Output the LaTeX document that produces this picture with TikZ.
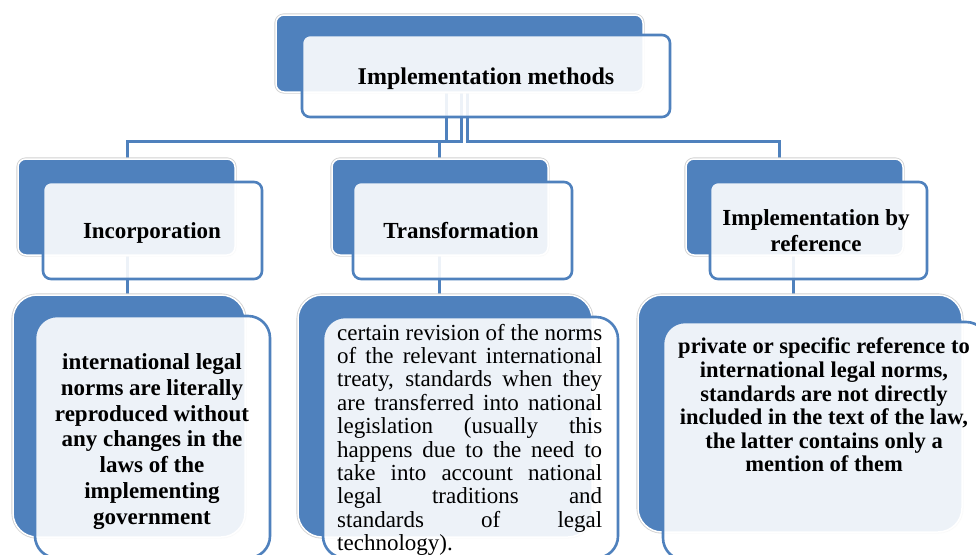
\documentclass[tikz,border=0pt]{standalone}
\usepackage{fontspec}
\setmainfont{Liberation Serif}
\definecolor{accblue}{HTML}{4F81BD}
\begin{document}
\begin{tikzpicture}[x=1pt,y=-1pt,
  backbox/.style={fill=accblue, draw=white, line width=1.5pt, rounded corners=8pt,
    preaction={draw=black!18, line width=3.2pt}, inner sep=0pt, outer sep=0pt},
  frontbox/.style={fill=white, fill opacity=0.9, draw=accblue, line width=2.6pt,
    rounded corners=8pt, inner sep=0pt, outer sep=0pt, text opacity=1},
  conn/.style={draw=accblue, line width=3pt},
  lbl/.style={font=\fontsize{23}{26}\selectfont\bfseries, align=center, text=black},
  desc/.style={font=\fontsize{23}{25.7}\selectfont\bfseries, align=center, text=black, inner sep=0pt},
]
\useasboundingbox (0,0) rectangle (976,554);
\clip (0,0) rectangle (976,554);
\fill[white] (0,0) rectangle (976,554);

% connector coordinates
\coordinate (t1) at (446,80);
\coordinate (t2) at (461,80);
\coordinate (t3) at (467,80);
\coordinate (bl) at (127,141);
\coordinate (bm) at (439,141);
\coordinate (br) at (779,141);
\coordinate (refin) at (779,170);
\coordinate (refout) at (793,250);

% connectors (drawn first, behind boxes)
\draw[conn] (t1) |- (bl) -- (127,170);
\draw[conn] (t2) |- (bm) -- (439,170);
\draw[conn] (t3) |- (br) -- (refin);
\draw[conn] (127,250) -- (127,300);
\draw[conn] (439,250) -- (439,300);
\draw[conn] (refout) -- (793,300);

% level 1
\node[backbox, minimum width=367pt, minimum height=77pt] (topB) at (459.5,53.5) {};
\node[frontbox, minimum width=368pt, minimum height=82pt] (topF) at (486,76) {};
\node[font=\fontsize{24}{28}\selectfont\bfseries] (topT) at (486,79) {Implementation methods};

% level 2
\node[backbox, minimum width=217pt, minimum height=96pt] (incB) at (126.5,207) {};
\node[frontbox, minimum width=219pt, minimum height=97pt] (incF) at (152.5,230.5) {};
\node[lbl] (incT) at (152,233) {Incorporation};

\node[backbox, minimum width=216pt, minimum height=96pt] (trB) at (440,207) {};
\node[frontbox, minimum width=219pt, minimum height=97pt] (trF) at (462.5,230.5) {};
\node[lbl] (trT) at (461,231) {Transformation};

\node[backbox, minimum width=217pt, minimum height=96pt] (refB) at (794.5,207) {};
\node[frontbox, minimum width=217pt, minimum height=97pt] (refF) at (818.5,230.5) {};
\node[lbl] (refT) at (816,230.5) {Implementation by\\reference};

% level 3
\node[backbox, rounded corners=24pt, minimum width=232pt, minimum height=242pt] (incDB) at (129,416) {};
\node[frontbox, rounded corners=22pt, minimum width=235pt, minimum height=242pt] (incDF) at (152.5,437) {};
\node[desc] (incDT) at (152,441.5) {international legal\\norms are literally\\reproduced without\\any changes in the\\laws of the\\implementing\\government};

\node[backbox, rounded corners=24pt, minimum width=294pt, minimum height=242pt] (trDB) at (445,416) {};
\node[frontbox, rounded corners=22pt, minimum width=295pt, minimum height=241pt] (trDF) at (470.5,437.5) {};
\node[font=\fontsize{23}{23.4}\selectfont, text width=265pt, align=justify, inner sep=0pt, anchor=base west] (trDT) at (337,340)
{\hyphenpenalty=10000\exhyphenpenalty=10000\tolerance=10000\emergencystretch=20pt
certain revision of the norms\linebreak
of the relevant international\linebreak
treaty, standards when they\linebreak
are transferred into national\linebreak
legislation (usually this\linebreak
happens due to the need to\linebreak
take into account national\linebreak
legal traditions and\linebreak
standards of legal\linebreak
technology).};

\node[backbox, rounded corners=24pt, minimum width=324pt, minimum height=237pt] (refDB) at (800,413.5) {};
\node[frontbox, rounded corners=22pt, minimum width=325pt, minimum height=238pt] (refDF) at (825.5,441) {};
\node[desc, font=\fontsize{22.5}{23.6}\selectfont\bfseries] (refDT) at (824,405) {private or specific reference to\\international legal norms,\\standards are not directly\\included in the text of the law,\\the latter contains only a\\mention of them};
\end{tikzpicture}
\end{document}
